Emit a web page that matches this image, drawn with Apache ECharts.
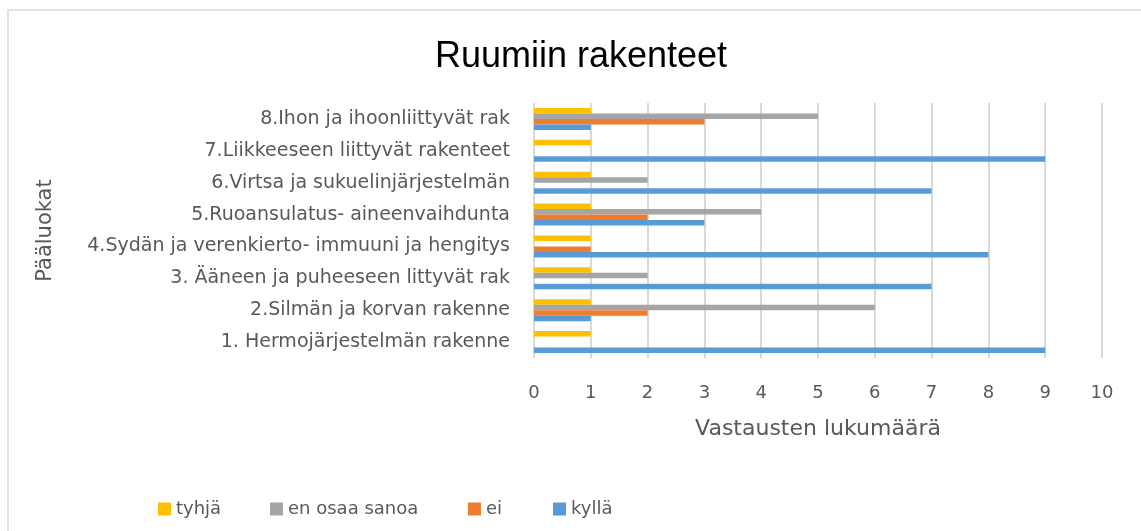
<!DOCTYPE html>
<html>
<head>
<meta charset="utf-8">
<script src="https://cdn.jsdelivr.net/npm/echarts@6/dist/echarts.min.js"></script>
<style>
    html, body { margin: 0; padding: 0; background: #fff; }
    #chart { width: 1141px; height: 531px; }
</style>
</head>
<body>
<div id="chart"></div>
<script>
    // luokat alhaalta ylös
    var categories = [
        '1. Hermojärjestelmän rakenne',
        '2.Silmän ja korvan rakenne',
        '3. Ääneen ja puheeseen littyvät rak',
        '4.Sydän ja verenkierto- immuuni ja hengitys',
        '5.Ruoansulatus- aineenvaihdunta',
        '6.Virtsa ja sukuelinjärjestelmän',
        '7.Liikkeeseen liittyvät rakenteet',
        '8.Ihon ja ihoonliittyvät rak'
    ];
    var tyhja = [1, 1, 1, 1, 1, 1, 1, 1];
    var enOsaa = [0, 6, 2, 0, 4, 2, 0, 5];
    var ei = [0, 2, 0, 1, 2, 0, 0, 3];
    var kylla = [9, 1, 7, 8, 3, 7, 9, 1];
    var xTicks = [0, 10, 1];  // min, max, interval

    var font = '"DejaVu Sans", sans-serif';
    var txt = '#595959';

    function bar(name, data, color) {
        return {
            name: name,
            type: 'bar',
            data: data,
            barGap: '0%',
            barCategoryGap: '31%',
            itemStyle: { color: color }
        };
    }

    // selite: yksi kohta kerrallaan, jotta välit vastaavat kuvaa
    function legendItem(name, left) {
        return {
            left: left,
            top: 500,
            padding: 0,
            itemWidth: 13,
            itemHeight: 13,
            itemGap: 0,
            icon: 'rect',
            data: [name],
            textStyle: { fontFamily: font, fontSize: 18, color: txt }
        };
    }

    var option = {
        backgroundColor: '#fff',
        animation: false,
        textStyle: { fontFamily: font },
        title: {
            text: 'Ruumiin rakenteet',
            left: 576,
            top: 34,
            textAlign: 'center',
            textStyle: { fontFamily: '"Liberation Sans", Arial, sans-serif', fontSize: 36, fontWeight: 'normal', color: '#000' }
        },
        graphic: [{
            type: 'rect',
            shape: { x: 8, y: 10, width: 1200, height: 600 },
            style: { fill: 'none', stroke: '#d9d9d9', lineWidth: 1.5 },
            silent: true
        }],
        legend: [
            legendItem('tyhjä', 158),
            legendItem('en osaa sanoa', 270),
            legendItem('ei', 468),
            legendItem('kyllä', 553)
        ],
        grid: {
            left: 534,
            right: 39,
            top: 103,
            bottom: 173,
            containLabel: false
        },
        xAxis: {
            type: 'value',
            min: xTicks[0],
            max: xTicks[1],
            interval: xTicks[2],
            name: 'Vastausten lukumäärä',
            nameLocation: 'middle',
            nameGap: 60,
            nameTextStyle: { fontFamily: font, fontSize: 22, color: txt },
            axisLine: { show: false },
            axisTick: { show: false },
            axisLabel: { fontFamily: font, fontSize: 18, color: txt, margin: 26 },
            splitLine: { show: true, lineStyle: { color: '#d9d9d9', width: 2 } }
        },
        yAxis: {
            type: 'category',
            data: categories,
            name: 'Pääluokat',
            nameLocation: 'middle',
            nameGap: 478,
            nameRotate: 90,
            nameTextStyle: { fontFamily: font, fontSize: 21, color: txt },
            axisLine: { show: false },
            axisTick: { show: false },
            axisLabel: { fontFamily: font, fontSize: 19, color: txt, margin: 24 },
            splitLine: { show: false }
        },
        series: [
            bar('tyhjä', tyhja, '#ffc000'),
            bar('en osaa sanoa', enOsaa, '#a5a5a5'),
            bar('ei', ei, '#ed7d31'),
            bar('kyllä', kylla, '#5b9bd5')
        ]
    };

    var chart = echarts.init(document.getElementById('chart'));
    chart.setOption(option);
</script>
</body>
</html>
